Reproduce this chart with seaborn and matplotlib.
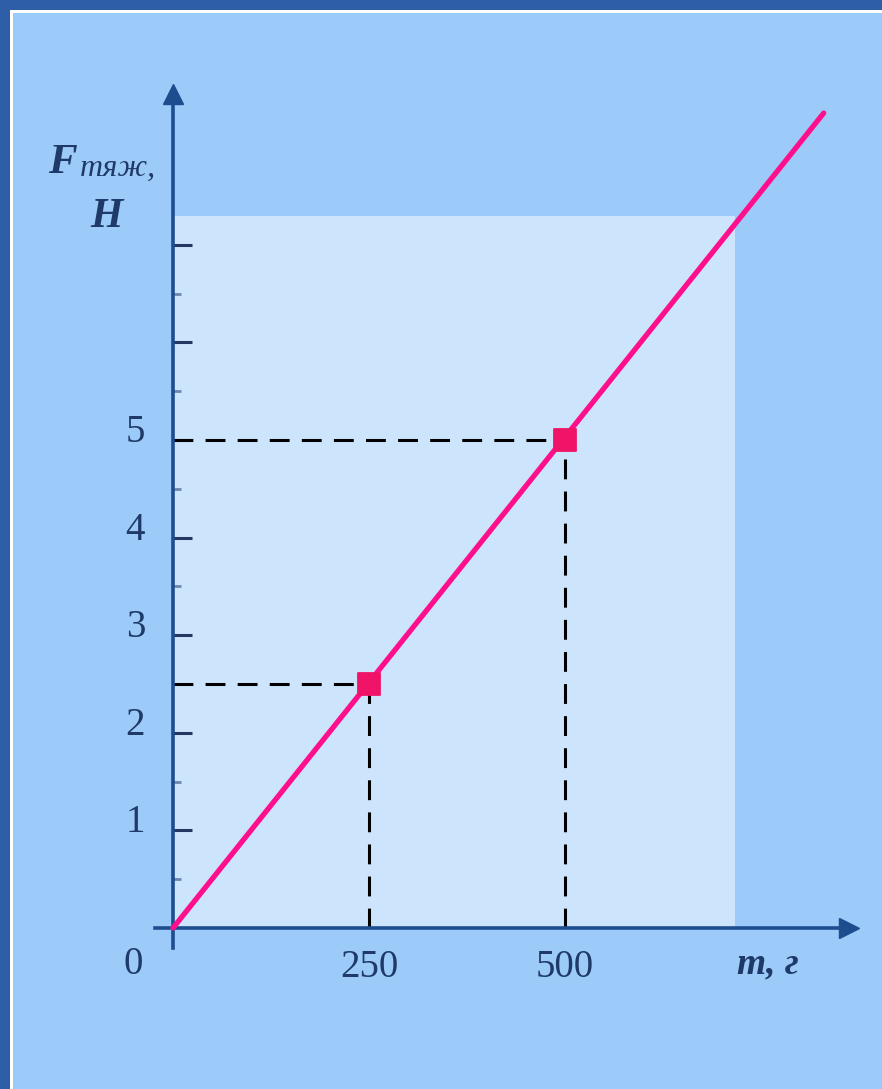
import matplotlib
matplotlib.use("Agg")
import matplotlib.pyplot as plt
import matplotlib.transforms as mtransforms
from matplotlib.patches import Rectangle
import seaborn as sns

# graph data: gravity force vs mass
LINE_M = [0, 830]          # г
LINE_F = [0, 8.35]         # Н
POINT_M = [250, 500]
POINT_F = [2.5, 5.0]
Y_TICKS = [1, 2, 3, 4, 5, 6, 7]
Y_TICK_LABELS = ["1", "2", "3", "4", "5", "", ""]
Y_MINOR = [0.5, 1.5, 2.5, 3.5, 4.5, 5.5, 6.5]
X_TICKS = [250, 500]
X_TICK_LABELS = ["250", "500"]
SHADE_M = [0, 717]
SHADE_F_TOP = 7.3

# colours
PANEL = "#9ccbfa"
SHADE = "#cce5fd"
FRAME = "#2f5ea8"
AXIS = "#1d4d8e"
TEXT = "#1f3a68"
PINK = "#ff0f8c"
DOT = "#f01468"

W, H = 882, 1089
ORIGIN_PX = (173, 928)
PX_PER_G = 0.784
PX_PER_N = 97.6

sns.set_style("white")
plt.rcParams["font.family"] = ["Liberation Serif", "DejaVu Serif"]

fig = plt.figure(figsize=(W / 100, H / 100), dpi=100)
fig.patch.set_facecolor(PANEL)

ax = fig.add_axes([0, 0, 1, 1])
ax.set_facecolor("none")
ax.set_xlim(-ORIGIN_PX[0] / PX_PER_G, (W - ORIGIN_PX[0]) / PX_PER_G)
ax.set_ylim((ORIGIN_PX[1] - H) / PX_PER_N, ORIGIN_PX[1] / PX_PER_N)

# frame at top and left
fig.add_artist(Rectangle((0, 1 - 13 / H), 1, 13 / H, transform=fig.transFigure,
                         color="white", lw=0, zorder=0))
fig.add_artist(Rectangle((0, 1 - 10 / H), 1, 10 / H, transform=fig.transFigure,
                         color=FRAME, lw=0, zorder=0))
fig.add_artist(Rectangle((0, 0), 13 / W, 1 - 10 / H, transform=fig.transFigure,
                         color="white", lw=0, zorder=0))
fig.add_artist(Rectangle((0, 0), 10 / W, 1, transform=fig.transFigure,
                         color=FRAME, lw=0, zorder=0))

# light area of the graph
ax.fill_between(SHADE_M, 0, SHADE_F_TOP, color=SHADE, lw=0, zorder=0)

# axes through origin with arrows
for side in ["top", "right"]:
    ax.spines[side].set_visible(False)
ax.spines["left"].set_position(("data", 0))
ax.spines["bottom"].set_position(("data", 0))
ax.spines["left"].set_bounds(-0.2, 8.5)
ax.spines["bottom"].set_bounds(-23, 860)
for side in ["left", "bottom"]:
    ax.spines[side].set_color(AXIS)
    ax.spines[side].set_linewidth(2.6)
    ax.spines[side].set_zorder(3)
ax.plot(862, 0, marker=">", ms=15, color=AXIS, clip_on=False, zorder=4)
ax.plot(0, 8.55, marker="^", ms=15, color=AXIS, clip_on=False, zorder=4)

ax.set_yticks(Y_TICKS)
ax.set_yticklabels(Y_TICK_LABELS)
ax.set_yticks(Y_MINOR, minor=True)
ax.tick_params(axis="y", which="both", left=True, direction="in")
ax.tick_params(axis="y", which="major", length=14, width=2.2,
               color="#24395f", pad=20, labelsize=28, labelcolor=TEXT)
ax.tick_params(axis="y", which="minor", length=6, width=2,
               color="#6d88b0")
ax.set_xticks(X_TICKS)
ax.set_xticklabels(X_TICK_LABELS)
ax.tick_params(axis="x", length=0, pad=15, labelsize=28, labelcolor=TEXT)

# y labels sit a little above their ticks in the original
shift = mtransforms.ScaledTranslation(0, 12 / 100, fig.dpi_scale_trans)
for lab in ax.get_yticklabels():
    lab.set_transform(lab.get_transform() + shift)

# guide dashed lines
for m, f in zip(POINT_M, POINT_F):
    ax.plot([0, m], [f, f], color="black", lw=2.2, dashes=(6.5, 4), zorder=2)
    ax.plot([m, m], [0, f], color="black", lw=2.2, dashes=(6.5, 4), zorder=2)

sns.lineplot(x=LINE_M, y=LINE_F, ax=ax, color=PINK, lw=3.8, zorder=5)
sns.scatterplot(x=POINT_M, y=POINT_F, ax=ax, marker="s", s=260, color=DOT,
                edgecolor=DOT, zorder=6)

# labels
ax.annotate("0", (0, 0), xytext=(-29, -26), textcoords="offset points",
            ha="center", va="center", fontsize=28, color=TEXT)
ax.annotate("m, г", (768 / PX_PER_G - ORIGIN_PX[0] / PX_PER_G, 0),
            xytext=(0, -26), textcoords="offset points",
            ha="center", va="center", fontsize=27, color=TEXT,
            style="italic", weight="bold")
fig.text(48 / W, 1 - 163 / H, "F", fontsize=31, color=TEXT, style="italic",
         weight="bold", ha="left", va="center")
fig.text(80 / W, 1 - 168 / H, "тяж,", fontsize=23, color=TEXT, style="italic",
         ha="left", va="center")
fig.text(106 / W, 1 - 217 / H, "Н", fontsize=30, color=TEXT, style="italic",
         weight="bold", ha="center", va="center")

fig.savefig("out.png", dpi=100, facecolor=fig.get_facecolor())
